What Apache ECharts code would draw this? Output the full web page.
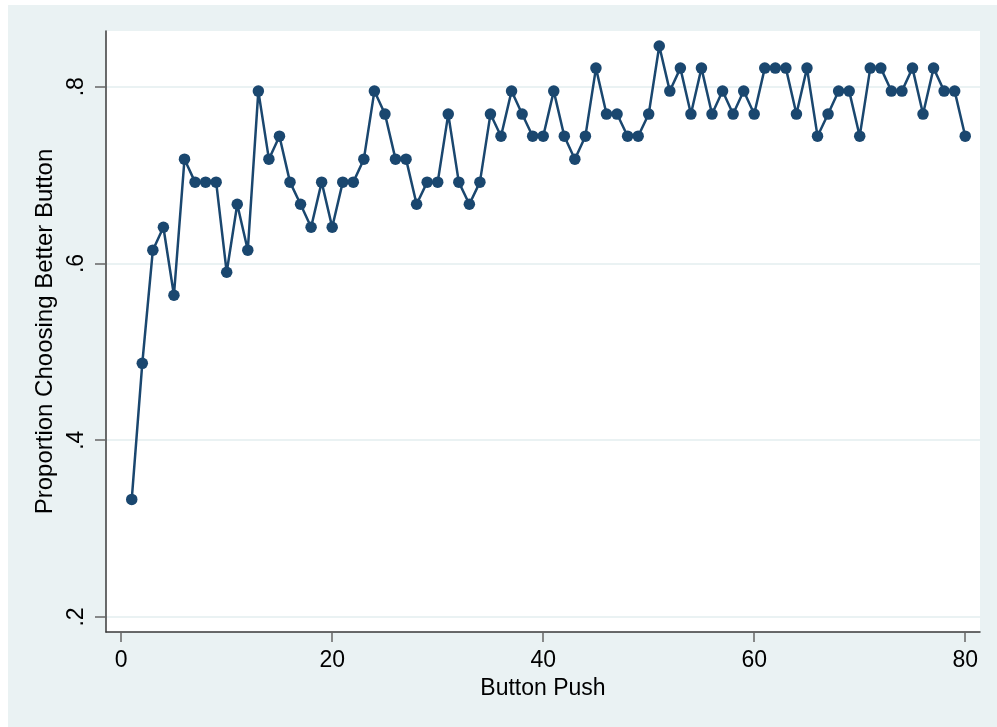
<!DOCTYPE html>
<html>
<head>
<meta charset="utf-8">
<title>Proportion Choosing Better Button</title>
<script src="https://cdn.jsdelivr.net/npm/echarts@6/dist/echarts.min.js"></script>
<style>
  html, body { margin: 0; padding: 0; background: #ffffff; }
  #chart { width: 997px; height: 727px; }
</style>
</head>
<body>
<div id="chart"></div>
<script>
// Button push number (1..80)
const pushes = [
  1, 2, 3, 4, 5, 6, 7, 8, 9, 10,
  11, 12, 13, 14, 15, 16, 17, 18, 19, 20,
  21, 22, 23, 24, 25, 26, 27, 28, 29, 30,
  31, 32, 33, 34, 35, 36, 37, 38, 39, 40,
  41, 42, 43, 44, 45, 46, 47, 48, 49, 50,
  51, 52, 53, 54, 55, 56, 57, 58, 59, 60,
  61, 62, 63, 64, 65, 66, 67, 68, 69, 70,
  71, 72, 73, 74, 75, 76, 77, 78, 79, 80
];

// Proportion of participants choosing the better button at each push
const proportion = [
  0.333, 0.487, 0.615, 0.641, 0.564, 0.718, 0.692, 0.692, 0.692, 0.590,
  0.667, 0.615, 0.795, 0.718, 0.744, 0.692, 0.667, 0.641, 0.692, 0.641,
  0.692, 0.692, 0.718, 0.795, 0.769, 0.718, 0.718, 0.667, 0.692, 0.692,
  0.769, 0.692, 0.667, 0.692, 0.769, 0.744, 0.795, 0.769, 0.744, 0.744,
  0.795, 0.744, 0.718, 0.744, 0.821, 0.769, 0.769, 0.744, 0.744, 0.769,
  0.846, 0.795, 0.821, 0.769, 0.821, 0.769, 0.795, 0.769, 0.795, 0.769,
  0.821, 0.821, 0.821, 0.769, 0.821, 0.744, 0.769, 0.795, 0.795, 0.744,
  0.821, 0.821, 0.795, 0.795, 0.821, 0.769, 0.821, 0.795, 0.795, 0.744
];

// Axis tick positions
const xTicks = [0, 20, 40, 60, 80];
const yTicks = [0.2, 0.4, 0.6, 0.8];

const FONT = '"Liberation Sans", Arial, sans-serif';
const NAVY = '#1a476f';
const BG = '#eaf2f3';

const chart = echarts.init(document.getElementById('chart'), null, { renderer: 'canvas' });

chart.setOption({
  animation: false,
  backgroundColor: '#ffffff',
  textStyle: { fontFamily: FONT },
  graphic: [{
    type: 'rect',
    z: -100,
    shape: { x: 8, y: 5, width: 989, height: 722 },
    style: { fill: BG }
  }],
  grid: {
    left: 106, top: 31, right: 17, bottom: 95,
    show: true, backgroundColor: '#ffffff', borderWidth: 0
  },
  xAxis: {
    type: 'value',
    min: -1.44, max: 81.4,
    name: 'Button Push',
    nameLocation: 'middle',
    nameGap: 43,
    nameTextStyle: { fontSize: 23, color: '#000', fontFamily: FONT },
    axisLine: { show: true, onZero: false, lineStyle: { color: '#3a3a3a', width: 1.5 } },
    axisTick: { show: true, customValues: xTicks, length: 10, lineStyle: { color: '#666', width: 1.5 } },
    axisLabel: { customValues: xTicks, fontSize: 23, color: '#000', margin: 17, fontFamily: FONT },
    splitLine: { show: false }
  },
  yAxis: {
    type: 'value',
    min: 0.183, max: 0.863,
    name: 'Proportion Choosing Better Button',
    nameLocation: 'middle',
    nameRotate: 90,
    nameGap: 42,
    nameTextStyle: { fontSize: 24, color: '#000', fontFamily: FONT },
    axisLine: { show: true, onZero: false, lineStyle: { color: '#3a3a3a', width: 1.5 } },
    axisTick: { show: true, customValues: yTicks, length: 11, lineStyle: { color: '#666', width: 1.5 } },
    axisLabel: {
      customValues: yTicks, rotate: 90, fontSize: 23, color: '#000', margin: 18, fontFamily: FONT,
      formatter: v => String(Math.round(v * 10) / 10).replace(/^0/, '')
    },
    splitLine: { show: true, lineStyle: { color: BG, width: 2 } }
  },
  series: [{
    type: 'line',
    data: pushes.map((p, i) => [p, proportion[i]]),
    symbol: 'circle',
    symbolSize: 11.5,
    showAllSymbol: true,
    itemStyle: { color: NAVY },
    lineStyle: { color: NAVY, width: 2.5 },
    emphasis: { disabled: true }
  }]
});
</script>
</body>
</html>
